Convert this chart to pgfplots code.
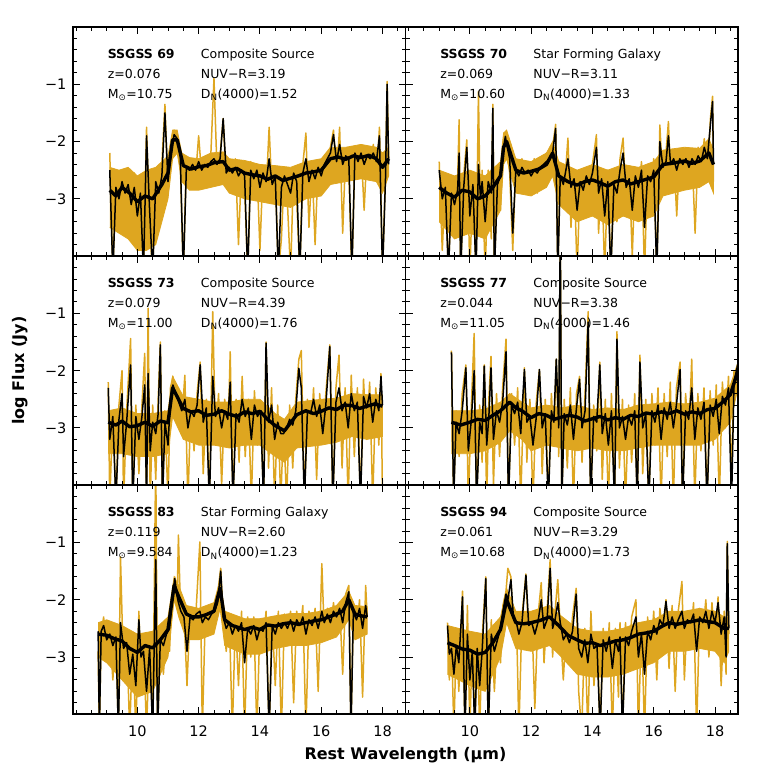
\documentclass[border=0pt]{standalone}
\usepackage{pgfplots}
\usepackage{pgfplotstable}
\pgfplotsset{compat=1.18}
\usepackage{fontspec}
\setmainfont{DejaVu Sans}
\definecolor{gold}{RGB}{222,166,32}
\newcommand{\ptfont}{\fontsize{12.5}{14}\selectfont}

\pgfplotstableread{
x o b
9.1 -2.2 -2.5
9.2 -4.3 -4.3
9.3 -2.6 -2.8
9.4 -3.3 -3.0
9.5 -2.5 -2.7
9.6 -3.4 -2.9
9.7 -2.6 -2.75
9.8 -3.6 -3.1
9.9 -2.55 -2.8
10.0 -3.9 -3.3
10.1 -2.7 -2.9
10.2 -4.3 -4.3
10.3 -1.75 -1.9
10.4 -3.5 -3.2
10.5 -4.3 -4.3
10.6 -2.5 -2.7
10.7 -3.3 -2.9
10.8 -2.4 -2.6
10.9 -1.35 -1.5
11.0 -2.9 -2.7
11.1 -2.1 -2.2
11.2 -1.8 -1.88
11.3 -2.0 -1.95
11.4 -2.35 -2.25
11.5 -4.3 -4.3
11.6 -2.35 -2.45
11.7 -2.7 -2.5
11.8 -2.3 -2.4
11.9 -2.6 -2.5
12.0 -1.9 -2.35
12.1 -2.6 -2.5
12.2 -2.3 -2.4
12.3 -2.55 -2.45
12.4 -2.2 -2.35
12.5 -0.9 -2.3
12.6 -2.5 -2.4
12.7 -2.25 -2.3
12.8 -1.6 -1.6
12.9 -2.7 -2.55
13.0 -2.35 -2.45
13.1 -2.75 -2.55
13.2 -2.3 -2.45
13.3 -3.8 -2.6
13.4 -2.4 -2.5
13.5 -2.8 -2.6
13.6 -4.3 -4.3
13.7 -2.35 -2.5
13.8 -2.9 -2.65
13.9 -2.4 -2.5
14.0 -3.9 -2.8
14.1 -2.45 -2.55
14.2 -2.9 -2.7
14.3 -1.75 -2.3
14.4 -3.0 -2.75
14.5 -2.5 -2.6
14.6 -4.3 -4.3
14.7 -3.7 -2.8
14.8 -2.5 -2.6
14.9 -3.1 -2.75
15.0 -4.3 -2.9
15.1 -2.45 -2.55
15.2 -3.0 -2.7
15.3 -4.3 -4.3
15.4 -2.4 -2.55
15.5 -1.85 -2.3
15.6 -3.5 -2.7
15.7 -2.4 -2.5
15.8 -3.8 -2.65
15.9 -2.35 -2.45
16.0 -2.9 -2.6
16.1 -2.3 -2.4
16.2 -2.8 -2.3
16.3 -2.1 -2.2
16.4 -1.8 -1.88
16.5 -2.6 -2.35
16.6 -1.75 -2.05
16.7 -3.6 -2.4
16.8 -2.15 -2.25
16.9 -2.5 -2.3
17.0 -4.3 -4.3
17.1 -2.15 -2.2
17.2 -2.6 -2.35
17.3 -2.1 -2.2
17.4 -3.2 -2.4
17.5 -2.1 -2.25
17.6 -2.5 -2.3
17.7 -2.05 -2.2
17.8 -2.7 -2.35
17.9 -1.75 -1.9
18.0 -4.3 -4.3
18.1 -2.5 -2.6
18.15 -0.95 -1.0
18.2 -2.3 -2.4
}\tA

\pgfplotstableread{
x o b
9.0 -2.35 -2.5
9.1 -3.9 -3.0
9.2 -2.7 -2.8
9.3 -4.3 -4.3
9.4 -2.8 -2.9
9.5 -3.5 -3.1
9.6 -2.7 -2.85
9.65 -1.62 -2.2
9.7 -4.3 -4.3
9.8 -2.6 -2.8
9.9 -1.97 -2.1
10.0 -4.3 -3.3
10.1 -2.6 -2.75
10.2 -4.3 -4.3
10.28 -1.13 -2.4
10.35 -3.6 -3.0
10.4 -2.5 -2.7
10.5 -4.3 -3.4
10.6 -2.5 -2.7
10.7 -3.7 -2.9
10.75 -1.35 -1.42
10.8 -4.3 -4.3
10.9 -2.5 -2.75
11.0 -3.2 -2.6
11.1 -2.0 -2.1
11.16 -1.85 -1.91
11.2 -2.1 -2.05
11.3 -2.55 -2.3
11.4 -3.9 -3.6
11.5 -2.35 -2.5
11.6 -2.8 -2.6
11.7 -2.3 -2.45
11.8 -2.9 -2.55
11.9 -2.4 -2.5
12.0 -2.8 -2.6
12.1 -2.3 -2.5
12.2 -2.9 -2.55
12.3 -2.3 -2.45
12.4 -2.6 -2.4
12.5 -2.2 -2.35
12.6 -2.5 -2.3
12.7 -2.1 -2.2
12.8 -1.7 -1.77
12.87 -4.3 -4.3
12.95 -2.4 -2.6
13.05 -3.1 -2.75
13.2 -1.94 -2.3
13.3 -3.5 -2.8
13.4 -2.5 -2.65
13.5 -4.3 -3.2
13.6 -2.6 -2.7
13.7 -3.3 -2.85
13.8 -2.45 -2.6
13.9 -3.0 -2.75
14.0 -2.4 -2.55
14.13 -1.88 -2.1
14.2 -3.6 -2.9
14.3 -2.5 -2.65
14.4 -4.3 -3.3
14.5 -2.5 -2.7
14.6 -4.3 -4.3
14.7 -2.6 -2.75
14.8 -3.4 -2.9
14.9 -2.3 -2.5
15.0 -1.94 -2.2
15.1 -3.1 -2.8
15.2 -2.5 -2.65
15.3 -4.0 -3.2
15.4 -2.45 -2.6
15.5 -3.0 -2.8
15.6 -2.35 -2.5
15.7 -4.3 -3.5
15.8 -2.4 -2.6
15.9 -3.1 -2.7
16.0 -2.3 -2.5
16.1 -4.3 -4.3
16.2 -1.71 -2.0
16.3 -2.8 -2.45
16.4 -2.2 -2.35
16.48 -1.65 -1.9
16.55 -2.7 -2.4
16.65 -2.15 -2.3
16.75 -3.3 -2.5
16.85 -2.2 -2.3
16.95 -2.5 -2.4
17.05 -2.15 -2.3
17.15 -2.8 -2.45
17.25 -2.2 -2.3
17.35 -3.6 -2.4
17.45 -2.1 -2.25
17.55 -2.5 -2.35
17.65 -1.95 -2.1
17.75 -2.7 -2.3
17.85 -1.6 -1.7
17.92 -1.21 -1.3
17.95 -2.7 -2.4
}\tB

\pgfplotstableread{
x o b
9.05 -2.2 -2.3
9.1 -4.3 -3.2
9.2 -2.7 -2.8
9.3 -4.3 -4.3
9.4 -2.6 -2.85
9.5 -2.0 -2.4
9.55 -4.3 -3.5
9.65 -2.7 -2.9
9.78 -1.44 -1.9
9.85 -4.3 -4.3
9.95 -2.6 -2.8
10.05 -3.8 -3.2
10.15 -2.6 -2.8
10.24 -1.7 -2.25
10.3 -4.3 -4.3
10.35 -0.91 -2.05
10.42 -4.3 -3.4
10.5 -2.6 -2.9
10.6 -3.9 -3.1
10.68 -2.5 -2.75
10.75 -1.5 -1.55
10.82 -4.3 -4.3
10.9 -2.7 -2.9
11.0 -4.3 -3.3
11.08 -2.3 -2.5
11.16 -2.1 -2.25
11.25 -2.6 -2.4
11.35 -2.35 -2.55
11.45 -2.9 -2.7
11.55 -2.08 -2.5
11.65 -4.3 -3.0
11.75 -2.5 -2.7
11.85 -3.4 -2.8
11.95 -2.4 -2.6
12.05 -1.85 -1.9
12.15 -3.8 -2.9
12.25 -2.5 -2.65
12.35 -4.3 -4.3
12.46 -0.97 -2.1
12.55 -3.2 -2.8
12.65 -2.4 -2.65
12.75 -4.0 -3.0
12.85 -2.5 -2.7
12.95 -3.3 -2.85
13.03 -1.67 -2.2
13.12 -4.3 -4.3
13.22 -2.5 -2.75
13.32 -3.6 -2.9
13.42 -2.1 -2.5
13.52 -3.5 -2.8
13.62 -2.5 -2.65
13.72 -4.3 -3.2
13.82 -2.35 -2.6
13.92 -3.3 -2.8
14.02 -2.6 -2.7
14.12 -4.3 -4.3
14.2 -1.5 -1.52
14.28 -3.7 -2.9
14.38 -2.3 -2.6
14.48 -4.3 -3.2
14.58 -2.6 -2.9
14.68 -4.3 -3.1
14.77 -2.9 -3.1
14.87 -4.3 -3.0
14.97 -2.6 -2.85
15.07 -3.7 -2.95
15.17 -2.5 -2.7
15.27 -1.8 -1.96
15.35 -1.65 -2.3
15.45 -4.3 -4.3
15.55 -2.5 -2.7
15.65 -3.3 -2.75
15.75 -2.3 -2.5
15.85 -3.9 -2.8
15.95 -2.4 -2.6
16.05 -3.2 -3.1
16.15 -2.4 -2.6
16.28 -1.55 -1.58
16.38 -4.3 -4.3
16.48 -2.3 -2.55
16.58 -1.73 -2.3
16.68 -3.7 -2.7
16.78 -2.3 -2.55
16.88 -4.3 -3.0
16.98 -2.08 -2.4
17.08 -3.5 -2.7
17.18 -2.3 -2.55
17.28 -4.3 -4.3
17.38 -2.15 -2.45
17.48 -3.2 -2.65
17.58 -2.2 -2.4
17.68 -4.3 -2.9
17.78 -2.3 -2.5
17.88 -3.3 -2.7
17.95 -2.05 -2.1
18.0 -4.3 -2.6
}\tC

\pgfplotstableread{
x o b
9.4 -1.65 -1.68
9.47 -4.3 -4.3
9.55 -2.7 -2.9
9.65 -3.5 -3.1
9.75 -2.4 -2.7
9.87 -1.9 -1.95
9.95 -4.3 -3.4
10.05 -2.6 -2.85
10.14 -1.35 -2.0
10.22 -4.3 -4.3
10.32 -2.6 -2.9
10.4 -3.6 -3.1
10.47 -1.9 -1.92
10.55 -4.3 -3.3
10.62 -2.5 -2.8
10.69 -1.75 -1.95
10.77 -4.0 -3.2
10.87 -2.4 -2.7
10.97 -3.5 -2.9
11.07 -2.3 -2.55
11.18 -1.45 -1.67
11.26 -4.3 -4.3
11.36 -2.4 -2.6
11.46 -3.3 -2.75
11.56 -2.3 -2.55
11.66 -4.3 -3.1
11.78 -1.95 -1.98
11.86 -3.6 -2.9
11.96 -2.5 -2.8
12.06 -4.3 -3.3
12.16 -2.6 -2.85
12.27 -1.98 -1.98
12.36 -3.8 -3.0
12.46 -2.5 -2.75
12.56 -4.3 -4.3
12.66 -2.4 -2.7
12.74 -3.2 -2.9
12.82 -1.8 -1.8
12.9 -3.5 -3.0
12.95 0.5 0.5
13.0 -4.3 -4.3
13.08 -2.5 -2.75
13.18 -3.7 -2.95
13.28 -2.3 -2.6
13.38 -4.3 -3.2
13.48 -2.4 -2.65
13.58 -2.1 -2.15
13.66 -3.6 -3.0
13.76 -2.4 -2.7
13.86 -0.97 -1.15
13.94 -4.3 -4.3
14.04 -2.6 -2.8
14.14 -3.4 -2.9
14.24 -1.85 -1.9
14.32 -3.9 -3.1
14.42 -2.5 -2.75
14.52 -4.3 -3.3
14.62 -2.4 -2.7
14.72 -4.3 -4.3
14.8 -1.32 -1.45
14.88 -3.7 -3.0
14.98 -2.5 -2.8
15.08 -4.3 -3.2
15.18 -2.6 -2.8
15.28 -3.6 -2.95
15.38 -2.4 -2.7
15.46 -4.3 -4.3
15.55 -1.73 -1.85
15.64 -3.8 -3.0
15.74 -2.5 -2.75
15.84 -4.3 -4.3
15.94 -2.4 -2.7
16.04 -3.3 -2.9
16.14 -2.3 -2.6
16.24 -4.3 -3.2
16.34 -2.4 -2.65
16.44 -3.5 -2.85
16.54 -2.2 -2.55
16.64 -4.3 -3.0
16.74 -2.3 -2.6
16.86 -1.85 -1.98
16.94 -4.3 -4.3
17.04 -2.4 -2.7
17.14 -3.2 -2.85
17.24 -1.8 -2.3
17.34 -4.3 -3.2
17.44 -2.4 -2.65
17.54 -3.4 -2.85
17.64 -2.3 -2.55
17.74 -4.3 -4.3
17.84 -2.35 -2.6
17.94 -3.3 -2.8
18.04 -2.25 -2.5
18.14 -4.3 -3.1
18.24 -2.2 -2.45
18.34 -3.0 -2.6
18.44 -2.1 -2.3
18.54 -3.9 -4.3
18.62 -2.0 -2.2
18.7 -2.3 -2.0
18.8 -1.6 -1.73
}\tD

\pgfplotstableread{
x o b
8.72 -2.9 -2.55
8.76 -4.3 -4.3
8.82 -2.6 -2.55
8.9 -2.3 -2.45
9.0 -3.0 -2.7
9.1 -2.5 -2.6
9.2 -3.4 -2.8
9.3 -2.5 -2.65
9.38 -4.3 -4.3
9.45 -1.25 -2.4
9.55 -3.3 -2.85
9.65 -2.6 -2.75
9.75 -4.3 -3.3
9.85 -2.7 -2.95
9.95 -4.3 -3.5
10.05 -2.2 -2.35
10.12 -3.5 -3.0
10.2 -2.7 -2.9
10.3 -4.3 -3.6
10.4 -2.6 -2.85
10.5 -4.3 -4.3
10.6 0.5 -1.3
10.66 -4.3 -4.3
10.75 -2.6 -2.7
10.85 -3.3 -2.8
10.95 -2.5 -2.6
11.05 -2.9 -2.5
11.12 -2.0 -2.1
11.22 -1.6 -1.63
11.3 -2.0 -1.95
11.34 -0.87 -2.05
11.42 -2.4 -2.2
11.52 -2.2 -2.3
11.62 -3.5 -2.9
11.72 -2.2 -2.3
11.82 -2.5 -2.35
11.92 -2.15 -2.25
12.04 -0.99 -2.2
12.12 -4.3 -2.4
12.22 -2.2 -2.3
12.32 -2.5 -2.35
12.42 -2.15 -2.25
12.52 -2.4 -2.2
12.62 -1.9 -2.05
12.72 -1.45 -1.5
12.8 -2.3 -2.3
12.9 -2.9 -2.5
13.0 -2.3 -2.4
13.1 -4.3 -2.6
13.2 -2.3 -2.45
13.3 -3.5 -2.55
13.4 -2.2 -2.4
13.5 -4.3 -3.1
13.6 -2.3 -2.5
13.7 -3.0 -2.6
13.8 -2.3 -2.45
13.9 -4.3 -2.7
14.0 -2.4 -2.5
14.1 -2.8 -2.55
14.2 -2.2 -2.4
14.3 -4.3 -4.3
14.4 -2.3 -2.45
14.5 -3.5 -2.6
14.6 -2.2 -2.4
14.7 -4.3 -2.5
14.8 -2.25 -2.4
14.9 -2.7 -2.5
15.0 -2.2 -2.35
15.1 -3.8 -2.55
15.2 -2.2 -2.35
15.3 -2.6 -2.45
15.4 -2.1 -2.3
15.5 -4.3 -2.6
15.6 -2.2 -2.35
15.7 -2.7 -2.45
15.8 -2.15 -2.3
15.9 -3.6 -2.5
16.02 -1.37 -2.2
16.1 -2.6 -2.4
16.2 -2.15 -2.25
16.3 -2.6 -2.4
16.4 -2.05 -2.2
16.5 -2.5 -2.3
16.6 -2.05 -2.15
16.7 -3.3 -2.4
16.8 -1.9 -2.05
16.9 -1.75 -1.86
16.97 -4.3 -4.3
17.05 -2.1 -2.2
17.15 -2.6 -2.35
17.25 -2.0 -2.15
17.35 -3.7 -2.5
17.45 -1.75 -2.1
17.5 -2.3 -2.3
}\tE

\pgfplotstableread{
x o b
9.27 -2.4 -2.45
9.33 -3.4 -2.95
9.4 -2.7 -2.85
9.48 -4.3 -3.3
9.56 -2.6 -2.8
9.64 -3.6 -3.1
9.76 -1.85 -1.95
9.84 -4.3 -4.3
9.92 -2.1 -2.6
10.0 -4.3 -3.4
10.08 -2.7 -2.9
10.16 -4.3 -4.3
10.24 -2.6 -2.85
10.32 -4.3 -3.5
10.4 -2.7 -2.9
10.52 -1.6 -1.63
10.6 -4.3 -4.3
10.7 -2.35 -2.6
10.8 -3.6 -2.9
10.9 -2.5 -2.7
11.0 -3.1 -2.5
11.08 -2.1 -2.2
11.18 -1.85 -1.9
11.24 -1.45 -2.0
11.34 -1.6 -1.65
11.42 -2.6 -2.3
11.52 -2.3 -2.4
11.6 -4.3 -2.6
11.7 -2.3 -2.4
11.83 -1.55 -1.57
11.92 -2.7 -2.45
12.02 -2.3 -2.4
12.12 -3.9 -2.6
12.22 -2.3 -2.4
12.33 -1.7 -2.0
12.42 -3.1 -2.5
12.52 -2.2 -2.35
12.62 -1.3 -1.45
12.7 -3.0 -2.5
12.78 -2.2 -2.35
12.87 -1.65 -2.05
12.95 -2.5 -2.4
13.05 -3.4 -2.7
13.15 -2.4 -2.6
13.25 -3.0 -2.75
13.35 -2.3 -2.55
13.47 -1.8 -1.9
13.55 -3.6 -2.85
13.65 -4.3 -3.0
13.75 -2.5 -2.7
13.85 -4.3 -3.1
13.95 -2.2 -2.6
14.05 -3.5 -2.85
14.15 -2.6 -2.8
14.25 -4.3 -4.3
14.35 -2.5 -2.7
14.45 -3.3 -2.9
14.55 -2.4 -2.65
14.65 -4.3 -3.2
14.75 -2.5 -2.7
14.85 -3.7 -2.9
14.9 -2.4 -2.65
14.98 -4.3 -4.3
15.08 -2.4 -2.65
15.18 -3.2 -2.8
15.28 -2.3 -2.55
15.42 -2.0 -2.3
15.5 -4.3 -3.0
15.6 -2.4 -2.6
15.7 -4.3 -3.3
15.8 -2.3 -2.55
15.9 -3.0 -2.7
16.0 -2.2 -2.45
16.1 -3.4 -2.6
16.2 -2.15 -2.35
16.3 -2.6 -2.45
16.4 -2.0 -2.03
16.5 -3.2 -2.5
16.6 -2.1 -2.3
16.7 -3.6 -2.5
16.8 -2.2 -2.35
16.92 -1.68 -2.2
17.0 -3.4 -2.5
17.1 -2.2 -2.35
17.2 -2.7 -2.4
17.3 -2.05 -2.25
17.4 -4.3 -2.9
17.5 -2.15 -2.3
17.6 -2.6 -2.4
17.7 -2.0 -2.2
17.8 -3.0 -2.5
17.9 -2.05 -2.2
18.0 -2.8 -2.4
18.1 -1.95 -2.05
18.2 -3.5 -2.6
18.3 -2.2 -2.3
18.36 -3.3 -3.0
18.4 -0.98 -1.02
18.45 -2.6 -2.5
}\tF

\pgfplotsset{
  panel/.style={
    scale only axis, width=332.5pt, height=229.1pt,
    anchor=south west,
    xmin=7.9, xmax=18.75, ymin=-4, ymax=0,
    xtick={10,12,14,16,18}, minor xtick={8,8.5,9,9.5,10.5,11,11.5,12.5,13,13.5,14.5,15,15.5,16.5,17,17.5,18.5},
    ytick={-3,-2,-1}, minor ytick={-3.8,-3.6,-3.4,-3.2,-2.8,-2.6,-2.4,-2.2,-1.8,-1.6,-1.4,-1.2,-0.8,-0.6,-0.4,-0.2},
    xticklabels={}, yticklabels={},
    tick align=inside, major tick length=7pt, minor tick length=4pt,
    every tick/.style={black, line width=0.9pt},
    axis line style={line width=1.6pt},
    tick label style={font=\fontsize{14.5}{16}\selectfont},
    xticklabel style={yshift=-8pt},
    yticklabel style={xshift=-3pt},
    axis on top,
  },
  ylab/.style={yticklabels={−3,−2,−1}},
  xlab/.style={xticklabels={10,12,14,16,18}},
  og/.style={color=gold, line width=1.5pt, line join=round},
  bk/.style={color=black, line width=1.5pt, line join=round},
  ogband/.style={fill=gold, draw=gold, line width=0.8pt},
  bkmid/.style={color=black, line width=3.4pt, line join=round},
}

\newcommand{\plabels}[6]{%
  \node[anchor=base west,font=\ptfont\bfseries] at (axis cs:8.92,-0.55) {#1};
  \node[anchor=base west,font=\ptfont] at (axis cs:11.96,-0.55) {#2};
  \node[anchor=base west,font=\ptfont] at (axis cs:8.92,-0.90) {z=#3};
  \node[anchor=base west,font=\ptfont] at (axis cs:11.96,-0.90) {NUV−R=#4};
  \node[anchor=base west,font=\ptfont] at (axis cs:8.92,-1.25) {M\textsubscript{⊙}=#5};
  \node[anchor=base west,font=\ptfont] at (axis cs:11.96,-1.25) {D\textsubscript{N}(4000)=#6};
}

\begin{document}
\begin{tikzpicture}
\useasboundingbox (0,0) rectangle (763pt,777pt);

% ---------- SSGSS 69
\begin{axis}[panel, ylab, at={(73pt,520.9pt)}]
\addplot[ogband] table[row sep=\\]{x y\\ 9.1 -2.45\\ 9.4 -2.5\\ 9.7 -2.45\\ 10.0 -2.6\\ 10.3 -2.5\\ 10.6 -2.45\\ 10.8 -2.35\\ 11.0 -2.25\\ 11.15 -1.8\\ 11.3 -1.8\\ 11.45 -2.2\\ 11.7 -2.28\\ 12.0 -2.3\\ 12.4 -2.2\\ 12.8 -2.18\\ 13.0 -2.3\\ 13.5 -2.33\\ 14.0 -2.4\\ 14.5 -2.42\\ 15.0 -2.45\\ 15.5 -2.35\\ 16.0 -2.3\\ 16.3 -2.1\\ 16.8 -2.1\\ 17.3 -2.05\\ 17.8 -2.1\\ 18.0 -2.2\\ 18.2 -2.1\\ 18.2 -2.6\\ 18.0 -2.9\\ 17.8 -2.7\\ 17.3 -2.65\\ 16.8 -2.7\\ 16.3 -2.75\\ 16.0 -2.95\\ 15.5 -3.0\\ 15.0 -3.15\\ 14.5 -3.1\\ 14.0 -3.05\\ 13.5 -3.0\\ 13.0 -2.9\\ 12.8 -2.75\\ 12.4 -2.8\\ 12.0 -2.85\\ 11.7 -2.85\\ 11.45 -2.7\\ 11.3 -2.2\\ 11.15 -2.3\\ 11.0 -3.0\\ 10.8 -3.4\\ 10.6 -3.8\\ 10.3 -3.9\\ 10.0 -3.9\\ 9.7 -3.7\\ 9.4 -3.6\\ 9.1 -3.5\\};
\addplot[og] table[x=x,y=o]{\tA};
\addplot[bkmid] table[row sep=\\]{x y\\ 9.1 -2.85\\ 9.3 -2.95\\ 9.5 -2.8\\ 9.75 -2.9\\ 10.0 -3.05\\ 10.25 -2.95\\ 10.5 -3.0\\ 10.8 -2.75\\ 11.0 -2.55\\ 11.15 -1.97\\ 11.3 -1.97\\ 11.5 -2.42\\ 11.75 -2.48\\ 12.0 -2.44\\ 12.25 -2.42\\ 12.5 -2.37\\ 12.8 -2.35\\ 13.0 -2.5\\ 13.25 -2.47\\ 13.5 -2.55\\ 13.75 -2.58\\ 14.0 -2.6\\ 14.25 -2.66\\ 14.5 -2.6\\ 14.75 -2.68\\ 15.0 -2.64\\ 15.25 -2.6\\ 15.5 -2.55\\ 15.75 -2.53\\ 16.0 -2.5\\ 16.3 -2.3\\ 16.55 -2.27\\ 16.8 -2.31\\ 17.05 -2.25\\ 17.3 -2.28\\ 17.55 -2.24\\ 17.8 -2.3\\ 18.0 -2.45\\ 18.2 -2.3\\};
\addplot[bk] table[x=x,y=b]{\tA};
\plabels{SSGSS 69}{Composite Source}{0.076}{3.19}{10.75}{1.52}
\end{axis}

% ---------- SSGSS 70
\begin{axis}[panel, at={(405.5pt,520.9pt)}]
\addplot[ogband] table[row sep=\\]{x y\\ 9.0 -2.5\\ 9.5 -2.6\\ 10.0 -2.5\\ 10.5 -2.6\\ 11.0 -2.35\\ 11.1 -1.85\\ 11.2 -1.8\\ 11.5 -2.3\\ 12.0 -2.35\\ 12.5 -2.2\\ 12.7 -2.0\\ 12.9 -2.35\\ 13.5 -2.5\\ 14.0 -2.4\\ 14.5 -2.5\\ 15.0 -2.4\\ 15.5 -2.45\\ 16.0 -2.35\\ 16.3 -2.15\\ 17.0 -2.1\\ 17.5 -2.12\\ 17.8 -1.95\\ 17.95 -2.15\\ 17.95 -2.9\\ 17.8 -2.7\\ 17.5 -2.8\\ 17.0 -2.85\\ 16.3 -2.95\\ 16.0 -3.3\\ 15.5 -3.4\\ 15.0 -3.3\\ 14.5 -3.45\\ 14.0 -3.3\\ 13.5 -3.4\\ 12.9 -3.1\\ 12.7 -2.6\\ 12.5 -2.8\\ 12.0 -2.95\\ 11.5 -2.9\\ 11.2 -2.3\\ 11.1 -2.4\\ 11.0 -3.2\\ 10.5 -3.7\\ 10.0 -3.6\\ 9.5 -3.7\\ 9.0 -3.4\\};
\addplot[og] table[x=x,y=o]{\tB};
\addplot[bkmid] table[row sep=\\]{x y\\ 9.0 -2.8\\ 9.25 -2.9\\ 9.5 -2.97\\ 9.75 -2.85\\ 10.0 -2.88\\ 10.25 -3.0\\ 10.5 -2.95\\ 10.75 -2.8\\ 11.0 -2.6\\ 11.1 -2.1\\ 11.2 -2.0\\ 11.5 -2.5\\ 11.75 -2.55\\ 12.0 -2.52\\ 12.25 -2.48\\ 12.5 -2.4\\ 12.7 -2.2\\ 12.9 -2.6\\ 13.2 -2.7\\ 13.5 -2.76\\ 13.75 -2.7\\ 14.0 -2.67\\ 14.25 -2.72\\ 14.5 -2.78\\ 14.75 -2.7\\ 15.0 -2.67\\ 15.25 -2.74\\ 15.5 -2.7\\ 15.75 -2.66\\ 16.0 -2.62\\ 16.3 -2.4\\ 16.6 -2.38\\ 17.0 -2.34\\ 17.25 -2.38\\ 17.5 -2.34\\ 17.8 -2.2\\ 17.95 -2.4\\};
\addplot[bk] table[x=x,y=b]{\tB};
\plabels{SSGSS 70}{Star Forming Galaxy}{0.069}{3.11}{10.60}{1.33}
\end{axis}

% ---------- SSGSS 73
\begin{axis}[panel, ylab, at={(73pt,291.8pt)}]
\addplot[ogband] table[row sep=\\]{x y\\ 9.05 -2.7\\ 9.5 -2.65\\ 10.0 -2.75\\ 10.5 -2.75\\ 11.0 -2.7\\ 11.15 -2.1\\ 11.5 -2.45\\ 12.0 -2.5\\ 12.5 -2.55\\ 13.0 -2.55\\ 13.5 -2.5\\ 14.0 -2.5\\ 14.5 -2.75\\ 14.8 -2.85\\ 15.2 -2.55\\ 16.0 -2.5\\ 16.5 -2.48\\ 17.0 -2.4\\ 17.5 -2.42\\ 18.0 -2.42\\ 18.0 -3.15\\ 17.5 -3.2\\ 17.0 -3.15\\ 16.5 -3.25\\ 16.0 -3.3\\ 15.2 -3.35\\ 14.8 -3.6\\ 14.5 -3.5\\ 14.0 -3.3\\ 13.5 -3.3\\ 13.0 -3.35\\ 12.5 -3.3\\ 12.0 -3.3\\ 11.5 -3.2\\ 11.15 -2.8\\ 11.0 -3.45\\ 10.5 -3.5\\ 10.0 -3.5\\ 9.5 -3.45\\ 9.05 -3.45\\};
\addplot[og] table[x=x,y=o]{\tC};
\addplot[bkmid] table[row sep=\\]{x y\\ 9.05 -2.9\\ 9.3 -2.95\\ 9.5 -2.88\\ 9.75 -2.98\\ 10.0 -2.96\\ 10.25 -2.9\\ 10.5 -2.97\\ 10.75 -2.88\\ 11.0 -2.91\\ 11.15 -2.3\\ 11.5 -2.66\\ 11.75 -2.72\\ 12.0 -2.7\\ 12.25 -2.78\\ 12.5 -2.76\\ 12.75 -2.7\\ 13.0 -2.76\\ 13.25 -2.8\\ 13.5 -2.72\\ 13.75 -2.75\\ 14.0 -2.71\\ 14.25 -2.85\\ 14.5 -2.96\\ 14.8 -3.05\\ 15.2 -2.77\\ 15.5 -2.7\\ 15.75 -2.75\\ 16.0 -2.71\\ 16.25 -2.65\\ 16.5 -2.68\\ 16.75 -2.6\\ 17.0 -2.61\\ 17.25 -2.66\\ 17.5 -2.62\\ 17.75 -2.58\\ 18.0 -2.62\\};
\addplot[bk] table[x=x,y=b]{\tC};
\plabels{SSGSS 73}{Composite Source}{0.079}{4.39}{11.00}{1.76}
\end{axis}

% ---------- SSGSS 77
\begin{axis}[panel, at={(405.5pt,291.8pt)}]
\addplot[ogband] table[row sep=\\]{x y\\ 9.4 -2.7\\ 10.0 -2.7\\ 10.5 -2.67\\ 11.0 -2.55\\ 11.3 -2.4\\ 11.7 -2.55\\ 12.0 -2.65\\ 12.5 -2.6\\ 13.0 -2.65\\ 13.5 -2.6\\ 14.0 -2.68\\ 14.5 -2.65\\ 15.0 -2.68\\ 15.5 -2.6\\ 16.0 -2.58\\ 16.5 -2.55\\ 17.0 -2.58\\ 17.5 -2.55\\ 18.0 -2.48\\ 18.5 -2.25\\ 18.75 -1.85\\ 18.75 -2.3\\ 18.5 -2.9\\ 18.0 -3.2\\ 17.5 -3.3\\ 17.0 -3.3\\ 16.5 -3.3\\ 16.0 -3.3\\ 15.5 -3.35\\ 15.0 -3.4\\ 14.5 -3.4\\ 14.0 -3.35\\ 13.5 -3.4\\ 13.0 -3.35\\ 12.5 -3.3\\ 12.0 -3.4\\ 11.7 -3.2\\ 11.3 -3.05\\ 11.0 -3.25\\ 10.5 -3.4\\ 10.0 -3.45\\ 9.4 -3.45\\};
\addplot[og] table[x=x,y=o]{\tD};
\addplot[bkmid] table[row sep=\\]{x y\\ 9.4 -2.9\\ 9.7 -2.95\\ 10.0 -2.9\\ 10.25 -2.85\\ 10.5 -2.87\\ 10.75 -2.78\\ 11.0 -2.7\\ 11.3 -2.55\\ 11.5 -2.65\\ 11.7 -2.7\\ 12.0 -2.82\\ 12.25 -2.75\\ 12.5 -2.78\\ 12.75 -2.85\\ 13.0 -2.81\\ 13.25 -2.78\\ 13.5 -2.81\\ 13.75 -2.88\\ 14.0 -2.84\\ 14.25 -2.8\\ 14.5 -2.86\\ 14.75 -2.82\\ 15.0 -2.85\\ 15.25 -2.78\\ 15.5 -2.8\\ 15.75 -2.74\\ 16.0 -2.76\\ 16.25 -2.72\\ 16.5 -2.75\\ 16.75 -2.7\\ 17.0 -2.76\\ 17.25 -2.72\\ 17.5 -2.75\\ 17.75 -2.68\\ 18.0 -2.66\\ 18.25 -2.55\\ 18.5 -2.42\\ 18.75 -2.0\\};
\addplot[bk] table[x=x,y=b]{\tD};
\plabels{SSGSS 77}{Composite Source}{0.044}{3.38}{11.05}{1.46}
\end{axis}

% ---------- SSGSS 83
\begin{axis}[panel, ylab, xlab, at={(73pt,62.7pt)}]
\addplot[ogband] table[row sep=\\]{x y\\ 8.72 -2.4\\ 9.0 -2.35\\ 9.5 -2.45\\ 10.0 -2.6\\ 10.5 -2.55\\ 11.0 -2.3\\ 11.2 -1.6\\ 11.35 -1.75\\ 11.6 -2.1\\ 12.0 -2.15\\ 12.5 -2.05\\ 12.7 -1.65\\ 12.85 -2.2\\ 13.5 -2.33\\ 14.0 -2.33\\ 14.5 -2.28\\ 15.0 -2.24\\ 15.5 -2.24\\ 16.0 -2.2\\ 16.5 -2.1\\ 16.9 -1.85\\ 17.1 -2.1\\ 17.5 -2.12\\ 17.5 -2.6\\ 17.1 -2.7\\ 16.9 -2.35\\ 16.5 -2.65\\ 16.0 -2.75\\ 15.5 -2.8\\ 15.0 -2.8\\ 14.5 -2.85\\ 14.0 -2.95\\ 13.5 -2.95\\ 12.85 -2.8\\ 12.7 -2.15\\ 12.5 -2.6\\ 12.0 -2.7\\ 11.6 -2.7\\ 11.35 -2.3\\ 11.2 -2.0\\ 11.0 -3.0\\ 10.5 -3.6\\ 10.0 -3.7\\ 9.5 -3.4\\ 9.0 -3.1\\ 8.72 -3.0\\};
\addplot[og] table[x=x,y=o]{\tE};
\addplot[bkmid] table[row sep=\\]{x y\\ 8.72 -2.6\\ 9.0 -2.62\\ 9.25 -2.68\\ 9.5 -2.72\\ 9.75 -2.85\\ 10.0 -2.92\\ 10.25 -2.8\\ 10.5 -2.84\\ 10.75 -2.7\\ 11.0 -2.52\\ 11.2 -1.75\\ 11.35 -1.95\\ 11.6 -2.25\\ 11.8 -2.3\\ 12.0 -2.3\\ 12.25 -2.26\\ 12.5 -2.2\\ 12.7 -1.8\\ 12.85 -2.35\\ 13.1 -2.45\\ 13.5 -2.52\\ 13.75 -2.48\\ 14.0 -2.52\\ 14.25 -2.44\\ 14.5 -2.46\\ 14.75 -2.42\\ 15.0 -2.4\\ 15.25 -2.43\\ 15.5 -2.4\\ 15.75 -2.37\\ 16.0 -2.35\\ 16.25 -2.3\\ 16.5 -2.25\\ 16.7 -2.2\\ 16.9 -2.0\\ 17.1 -2.25\\ 17.3 -2.28\\ 17.5 -2.3\\};
\addplot[bk] table[x=x,y=b]{\tE};
\plabels{SSGSS 83}{Star Forming Galaxy}{0.119}{2.60}{9.584}{1.23}
\end{axis}

% ---------- SSGSS 94
\begin{axis}[panel, xlab, at={(405.5pt,62.7pt)}]
\addplot[ogband] table[row sep=\\]{x y\\ 9.27 -2.45\\ 10.0 -2.55\\ 10.5 -2.6\\ 11.0 -2.3\\ 11.2 -1.8\\ 11.5 -2.2\\ 12.0 -2.2\\ 12.6 -2.1\\ 12.9 -2.25\\ 13.5 -2.5\\ 14.0 -2.55\\ 14.5 -2.55\\ 15.0 -2.5\\ 15.5 -2.4\\ 16.0 -2.35\\ 16.5 -2.2\\ 17.0 -2.2\\ 17.5 -2.15\\ 18.0 -2.2\\ 18.3 -2.3\\ 18.45 -2.3\\ 18.45 -2.9\\ 18.3 -3.1\\ 18.0 -2.9\\ 17.5 -2.85\\ 17.0 -2.9\\ 16.5 -2.9\\ 16.0 -3.1\\ 15.5 -3.2\\ 15.0 -3.3\\ 14.5 -3.35\\ 14.0 -3.35\\ 13.5 -3.3\\ 12.9 -2.95\\ 12.6 -2.8\\ 12.0 -2.9\\ 11.5 -2.85\\ 11.2 -2.4\\ 11.0 -3.0\\ 10.5 -3.6\\ 10.0 -3.5\\ 9.27 -3.3\\};
\addplot[og] table[x=x,y=o]{\tF};
\addplot[bkmid] table[row sep=\\]{x y\\ 9.27 -2.75\\ 9.5 -2.8\\ 9.75 -2.86\\ 10.0 -2.88\\ 10.25 -2.95\\ 10.5 -2.92\\ 10.75 -2.75\\ 11.0 -2.52\\ 11.2 -2.0\\ 11.5 -2.4\\ 11.75 -2.42\\ 12.0 -2.4\\ 12.3 -2.36\\ 12.6 -2.3\\ 12.9 -2.45\\ 13.2 -2.62\\ 13.5 -2.7\\ 13.75 -2.76\\ 14.0 -2.75\\ 14.25 -2.8\\ 14.5 -2.76\\ 14.75 -2.72\\ 15.0 -2.7\\ 15.25 -2.66\\ 15.5 -2.6\\ 15.75 -2.58\\ 16.0 -2.55\\ 16.25 -2.47\\ 16.5 -2.4\\ 16.75 -2.43\\ 17.0 -2.4\\ 17.25 -2.38\\ 17.5 -2.35\\ 17.75 -2.38\\ 18.0 -2.4\\ 18.3 -2.5\\ 18.45 -2.5\\};
\addplot[bk] table[x=x,y=b]{\tF};
\plabels{SSGSS 94}{Composite Source}{0.061}{3.29}{10.68}{1.73}
\end{axis}

\node[font=\fontsize{16}{18}\selectfont\bfseries, rotate=90] at (20pt,406.5pt) {log Flux (Jy)};
\node[font=\fontsize{16}{18}\selectfont\bfseries] at (405.5pt,22pt) {Rest Wavelength (μm)};
\end{tikzpicture}
\end{document}
